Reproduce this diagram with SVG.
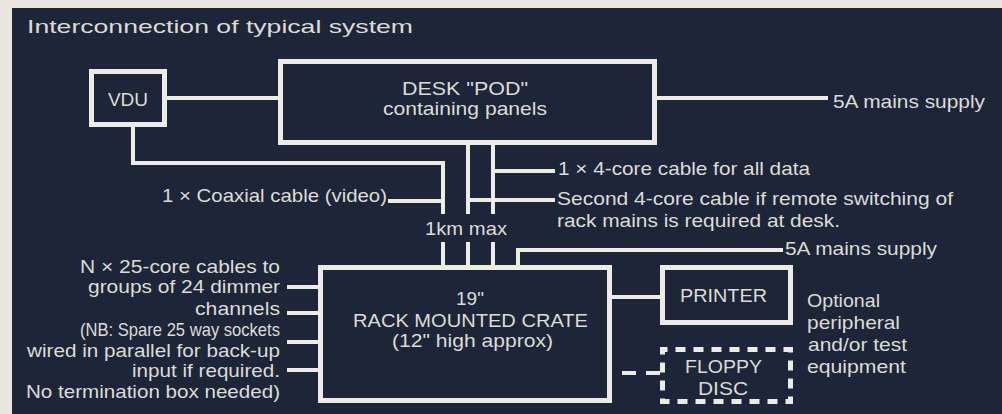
<svg xmlns="http://www.w3.org/2000/svg" width="1002" height="414" viewBox="0 0 1002 414">
<style>
.box{fill:none;stroke:#ecebe4;stroke-width:5}
.dash{fill:none;stroke:#ecebe4;stroke-width:5;stroke-dasharray:10 8;stroke-dashoffset:5}
.ln{fill:none;stroke:#ecebe4;stroke-width:4}
.dl{fill:none;stroke:#ecebe4;stroke-width:4;stroke-dasharray:14 10}
text{font-family:"Liberation Sans",Arial,sans-serif;font-size:19px;fill:#dcdcd4}
.c{text-anchor:middle}
</style>
<rect x="0" y="0" width="1002" height="414" fill="#e9e7e0"/>
<rect x="12" y="8" width="990" height="406" fill="#1c2638"/>
<text x="27" y="33" font-size="21" textLength="386" lengthAdjust="spacingAndGlyphs">Interconnection of typical system</text>
<g id="connectors">
<path class="ln" d="M167,98 H278"/>
<path class="ln" d="M657,98 H828"/>
<path class="ln" d="M133,127 V163 H443 V214 M443,242 V265"/>
<path class="ln" d="M468,145 V214 M468,242 V265"/>
<path class="ln" d="M493,145 V214 M493,242 V265"/>
<path class="ln" d="M493,171 H555"/>
<path class="ln" d="M468,200 H555"/>
<path class="ln" d="M388,201 H443"/>
<path class="ln" d="M518,265 V250 H783"/>
<path class="ln" d="M287,287 H318 M287,313 H318 M287,342 H318 M287,370 H318"/>
<path class="ln" d="M612,297 H660"/>
<path class="dl" d="M622,373 H660"/>
</g>
<g id="vdu">
<rect class="box" x="91.5" y="71.5" width="73" height="53"/>
<text x="128" y="106" class="c">VDU</text>
</g>
<g id="desk">
<rect class="box" x="280.5" y="61.5" width="374" height="81"/>
<text x="402" y="95" font-size="18" textLength="126" lengthAdjust="spacingAndGlyphs">DESK "POD"</text>
<text x="383" y="115" font-size="18" textLength="164" lengthAdjust="spacingAndGlyphs">containing panels</text>
</g>
<g id="rack">
<rect class="box" x="320.5" y="267.5" width="289" height="133"/>
<text x="470" y="305" class="c">19"</text>
<text x="353" y="327" textLength="235" lengthAdjust="spacingAndGlyphs">RACK MOUNTED CRATE</text>
<text x="392" y="347" textLength="161" lengthAdjust="spacingAndGlyphs">(12" high approx)</text>
</g>
<g id="printer">
<rect class="box" x="662.5" y="267.5" width="128" height="55"/>
<text x="680" y="302" textLength="87" lengthAdjust="spacingAndGlyphs">PRINTER</text>
</g>
<g id="floppy">
<rect class="dash" x="662.5" y="349.5" width="128" height="52"/>
<text x="685" y="373" textLength="77" lengthAdjust="spacingAndGlyphs">FLOPPY</text>
<text x="698" y="395" textLength="50" lengthAdjust="spacingAndGlyphs">DISC</text>
</g>
<g id="labels">
<text x="833" y="108" textLength="152" lengthAdjust="spacingAndGlyphs">5A mains supply</text>
<text x="558" y="175" textLength="252" lengthAdjust="spacingAndGlyphs">1 × 4-core cable for all data</text>
<text x="557" y="205" textLength="396" lengthAdjust="spacingAndGlyphs">Second 4-core cable if remote switching of</text>
<text x="557" y="227" textLength="283" lengthAdjust="spacingAndGlyphs">rack mains is required at desk.</text>
<text x="162" y="202" textLength="225" lengthAdjust="spacingAndGlyphs">1 × Coaxial cable (video)</text>
<text x="425" y="235" textLength="82" lengthAdjust="spacingAndGlyphs">1km max</text>
<text x="785" y="255" textLength="152" lengthAdjust="spacingAndGlyphs">5A mains supply</text>
<text x="80" y="273" textLength="200" lengthAdjust="spacingAndGlyphs">N × 25-core cables to</text>
<text x="88" y="293" textLength="192" lengthAdjust="spacingAndGlyphs">groups of 24 dimmer</text>
<text x="195" y="315" textLength="85" lengthAdjust="spacingAndGlyphs">channels</text>
<text x="80" y="336" textLength="200" lengthAdjust="spacingAndGlyphs">(NB: Spare 25 way sockets</text>
<text x="27" y="357" textLength="253" lengthAdjust="spacingAndGlyphs">wired in parallel for back-up</text>
<text x="132" y="377" textLength="148" lengthAdjust="spacingAndGlyphs">input if required.</text>
<text x="26" y="398" textLength="254" lengthAdjust="spacingAndGlyphs">No termination box needed)</text>
<text x="807" y="307" textLength="73" lengthAdjust="spacingAndGlyphs">Optional</text>
<text x="807" y="329" textLength="93" lengthAdjust="spacingAndGlyphs">peripheral</text>
<text x="808" y="351" textLength="99" lengthAdjust="spacingAndGlyphs">and/or test</text>
<text x="807" y="373" textLength="99" lengthAdjust="spacingAndGlyphs">equipment</text>
</g>
</svg>
